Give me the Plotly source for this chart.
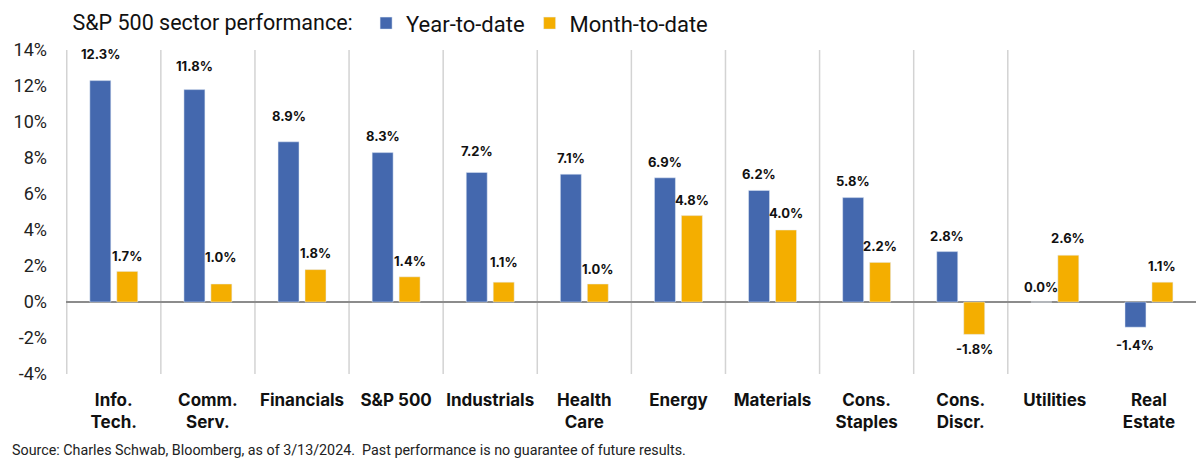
import plotly.graph_objects as go

# Sector performance (%)
sectors = ["Info.<br>Tech.", "Comm.<br>Serv.", "Financials", "S&P 500", "Industrials",
           "Health<br>Care", "Energy", "Materials", "Cons.<br>Staples", "Cons.<br>Discr.",
           "Utilities", "Real<br>Estate"]
ytd = [12.3, 11.8, 8.9, 8.3, 7.2, 7.1, 6.9, 6.2, 5.8, 2.8, 0.0, -1.4]
mtd = [1.7, 1.0, 1.8, 1.4, 1.1, 1.0, 4.8, 4.0, 2.2, -1.8, 2.6, 1.1]
y_ticks = [-4, -2, 0, 2, 4, 6, 8, 10, 12, 14]

# label offsets in px (the source placed its labels by hand)
ytd_shift = [27, 24, 26, 17, 21, 16, 16, 16, 17, 16, 15, -18]
mtd_shift = [15, 27, 17, 16, 20, 15, 16, 17, 16, -15, 17, 16]

blue = "#4468AE"
gold = "#F4AE00"

fig = go.Figure()
fig.add_trace(go.Bar(x=sectors, y=ytd, name="Year-to-date", marker_color=blue,
                     offsetgroup="ytd"))
fig.add_trace(go.Bar(x=sectors, y=mtd, name="Month-to-date", marker_color=gold,
                     offsetgroup="mtd"))

# data labels centred on each bar
label_font = dict(family="Inter", size=13, color="#111111", weight="bold")
for vals, shifts, xshift in [(ytd, ytd_shift, -13.5), (mtd, mtd_shift, 13.5)]:
    for cat, v, s in zip(sectors, vals, shifts):
        fig.add_annotation(x=cat, y=v, text=f"{v:.1f}%", showarrow=False,
                           xshift=xshift, yshift=s, font=label_font)

# category separators (light gray verticals between groups)
for i in range(len(sectors) - 1):
    fig.add_shape(type="line", xref="x", yref="paper", x0=i - 0.5, x1=i - 0.5,
                  y0=0, y1=1, line=dict(color="#D3D3D3", width=1.5), layer="below")

fig.add_annotation(xref="paper", yref="paper", x=-0.0495, y=-0.236,
                   xanchor="left", yanchor="middle", showarrow=False,
                   text="Source: Charles Schwab, Bloomberg, as of 3/13/2024.  Past performance is no guarantee of future results.",
                   font=dict(family="Roboto", size=14.3, color="#222222"))

fig.update_layout(
    width=1200, height=464,
    margin=dict(l=66, r=4, t=50, b=90, autoexpand=False),
    plot_bgcolor="white", paper_bgcolor="white",
    barmode="group", bargap=0.427, bargroupgap=0.222,
    showlegend=True,
    legend=dict(orientation="h", x=0.0587, y=0.995, xref="container", yref="container",
                xanchor="left", yanchor="top",
                title=dict(text="S&P 500 sector performance: ", side="left",
                           font=dict(family="Roboto", size=21.5, color="#111111")),
                font=dict(family="Roboto", size=22, color="#111111"),
                itemwidth=30, traceorder="normal"),
    xaxis=dict(showgrid=False, zeroline=False, showline=False, ticks="",
               ticklabelstandoff=14,
               tickfont=dict(family="Inter", size=17, color="#111111", weight="bold")),
    yaxis=dict(range=[-4, 14], tickvals=y_ticks, ticktext=[f"{t}%" for t in y_ticks],
               showgrid=False, zeroline=True, zerolinecolor="#8C8C8C", zerolinewidth=2,
               tickfont=dict(family="Roboto", size=18, color="#222222"),
               ticks="", ticklabelstandoff=18),
)

fig.write_html("out.html", config={"displayModeBar": False},
               post_script="document.body.style.margin='0';")
